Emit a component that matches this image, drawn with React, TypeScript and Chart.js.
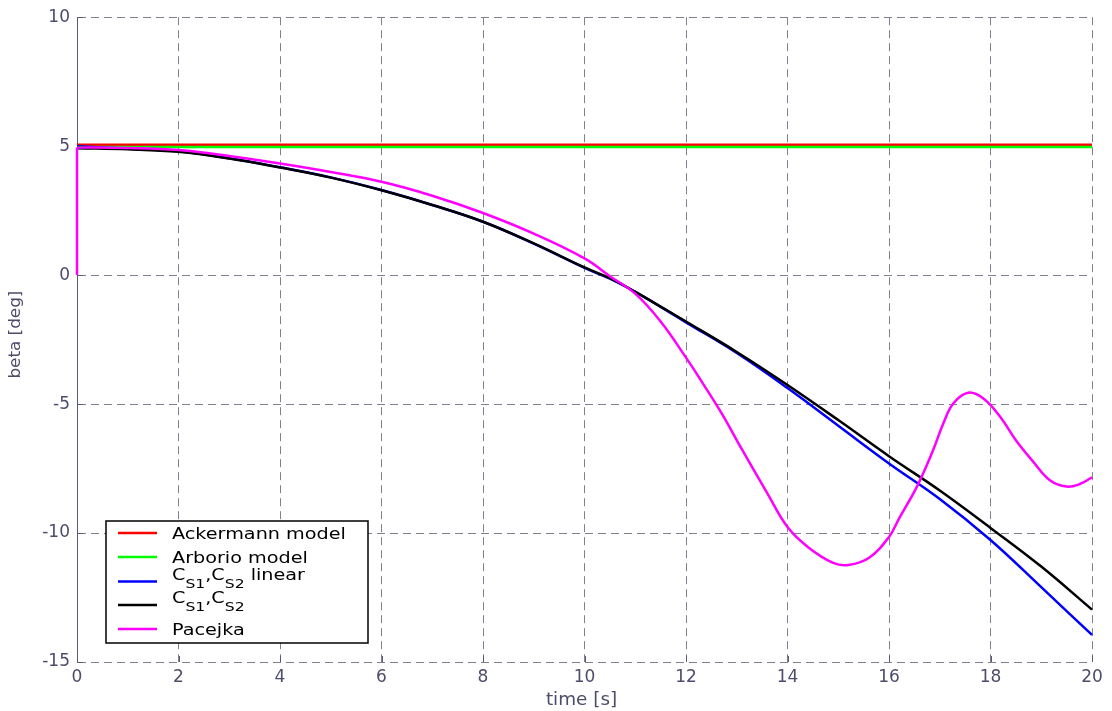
import React, { useEffect, useRef } from "react";
import { Chart, registerables } from "chart.js";

Chart.register(...registerables);

// ---- data ----
const xTicks = [0, 2, 4, 6, 8, 10, 12, 14, 16, 18, 20];
const yTicks = [-15, -10, -5, 0, 5, 10];

const timeConst = [0, 20];
const ackermann = [5.05, 5.05];
const arborio = [4.97, 4.97];

const timeCs = [0, 1, 2, 3, 4, 5, 6, 7, 8, 9, 10, 10.5, 11, 11.5, 12, 13, 14, 15, 16, 17, 18, 19, 20];
const csLinear = [5.0, 4.9, 4.8, 4.53, 4.18, 3.79, 3.3, 2.72, 2.07, 1.22, 0.28, -0.14, -0.65, -1.23, -1.83, -3.02, -4.38, -5.84, -7.3, -8.68, -10.27, -12.1, -13.95];
const cs = [4.92, 4.88, 4.78, 4.52, 4.17, 3.78, 3.29, 2.72, 2.07, 1.23, 0.3, -0.12, -0.65, -1.22, -1.8, -2.98, -4.26, -5.62, -7.02, -8.35, -9.8, -11.3, -12.97];

// initial step of the Pacejka response at t = 0
const timeStep = [0, 0];
const pacejkaStep = [0, 4.95];

const timePac = [0, 1, 2, 3, 4, 5, 6, 7, 8, 9, 10, 10.5, 11, 11.5, 12, 12.3, 12.7, 13.1, 13.6, 14, 14.4, 14.9, 15.2, 15.6, 16, 16.2, 16.55, 16.87, 17.07, 17.27, 17.56, 17.86, 18.19, 18.5, 18.84, 19.17, 19.5, 19.76, 20];
const pacejka = [4.95, 4.93, 4.85, 4.62, 4.33, 4.0, 3.62, 3.08, 2.41, 1.61, 0.65, -0.04, -0.72, -1.8, -3.2, -4.1, -5.35, -6.75, -8.45, -9.77, -10.54, -11.16, -11.24, -10.97, -10.15, -9.43, -8.2, -6.78, -5.75, -4.97, -4.56, -4.78, -5.49, -6.4, -7.23, -7.95, -8.2, -8.1, -7.84];

// legend labels as text segments (sub = subscript)
const legendAckermann = [{ t: "Ackermann model" }];
const legendArborio = [{ t: "Arborio model" }];
const legendCsLinear = [{ t: "C" }, { t: "S1", sub: true }, { t: "," }, { t: "C" }, { t: "S2", sub: true }, { t: " linear" }];
const legendCs = [{ t: "C" }, { t: "S1", sub: true }, { t: "," }, { t: "C" }, { t: "S2", sub: true }];
const legendPacejka = [{ t: "Pacejka" }];

const xTitle = "time [s]";
const yTitle = "beta [deg]";

const FONT = "'DejaVu Sans', sans-serif";
const TEXT_COLOR = "#4d4d6b";
const GRID_COLOR = "#80808f";

const toPts = (xs: number[], ys: number[]) => xs.map((x, i) => ({ x, y: ys[i] }));

export default function App() {
  const ref = useRef<HTMLCanvasElement | null>(null);

  useEffect(() => {
    const canvas = ref.current;
    if (!canvas) return;

    const entries = [
      { color: "#ff0000", seg: legendAckermann },
      { color: "#00ff00", seg: legendArborio },
      { color: "#0000ff", seg: legendCsLinear },
      { color: "#000000", seg: legendCs },
      { color: "#ff00ff", seg: legendPacejka },
    ];

    const overlay = {
      id: "overlay",
      afterDraw(chart: any) {
        const { ctx, chartArea, scales } = chart;
        const { left, right, top, bottom } = chartArea;
        ctx.save();
        // inward tick marks
        ctx.strokeStyle = "#5a5a78";
        ctx.lineWidth = 1;
        ctx.beginPath();
        xTicks.forEach((v) => {
          const px = Math.round(scales.x.getPixelForValue(v)) + 0.5;
          ctx.moveTo(px, bottom);
          ctx.lineTo(px, bottom - 6);
        });
        yTicks.forEach((v) => {
          const py = Math.round(scales.y.getPixelForValue(v)) + 0.5;
          ctx.moveTo(left, py);
          ctx.lineTo(left + 6, py);
        });
        ctx.stroke();

        // axis titles
        ctx.fillStyle = TEXT_COLOR;
        ctx.textAlign = "center";
        ctx.textBaseline = "middle";
        ctx.font = `17px ${FONT}`;
        ctx.save();
        ctx.translate((left + right) / 2 - 3, 701);
        ctx.scale(1.08, 1);
        ctx.fillText(xTitle, 0, 0);
        ctx.restore();

        ctx.save();
        ctx.translate(16, (top + bottom) / 2 - 5);
        ctx.rotate(-Math.PI / 2);
        ctx.font = `15px ${FONT}`;
        ctx.scale(1.12, 1);
        ctx.fillText(yTitle, 0, 0);
        ctx.restore();

        // legend
        const lx = left + 29;
        const lw = 262;
        const lh = 122;
        const ly = bottom - 19 - lh;
        ctx.fillStyle = "#ffffff";
        ctx.fillRect(lx, ly, lw, lh);
        ctx.strokeStyle = "#000000";
        ctx.lineWidth = 1.5;
        ctx.strokeRect(lx, ly, lw, lh);
        const rowY = [12, 36, 60.5, 84, 108];
        const sx = 1.2;
        entries.forEach((e, i) => {
          const y = ly + rowY[i];
          ctx.strokeStyle = e.color;
          ctx.lineWidth = 2.5;
          ctx.beginPath();
          ctx.moveTo(lx + 12, y);
          ctx.lineTo(lx + 51, y);
          ctx.stroke();
          ctx.fillStyle = "#000000";
          ctx.textAlign = "left";
          ctx.textBaseline = "alphabetic";
          const hasSub = e.seg.some((s: any) => s.sub);
          let x = lx + 66;
          e.seg.forEach((s: any) => {
            const size = s.sub ? 13 : 16;
            ctx.font = `${size}px ${FONT}`;
            const by = hasSub ? (s.sub ? y + 6 : y - 2) : y + 5.5;
            ctx.save();
            ctx.translate(x, by);
            ctx.scale(sx, 1);
            ctx.fillText(s.t, 0, 0);
            ctx.restore();
            x += ctx.measureText(s.t).width * sx;
          });
        });
        ctx.restore();
      },
    };

    const ds = (label: string, xs: number[], ys: number[], color: string, order: number) => ({
      label,
      data: toPts(xs, ys),
      borderColor: color,
      backgroundColor: color,
      borderWidth: 2.5,
      pointRadius: 0,
      fill: false,
      tension: 0.4,
      clip: 4,
      order,
    });

    const chart = new Chart(canvas, {
      type: "line",
      data: {
        datasets: [
          ds("Ackermann model", timeConst, ackermann, "#ff0000", 5),
          ds("Arborio model", timeConst, arborio, "#00ff00", 4),
          ds("CS1,CS2 linear", timeCs, csLinear, "#0000ff", 3),
          ds("CS1,CS2", timeCs, cs, "#000000", 2),
          ds("Pacejka", timePac, pacejka, "#ff00ff", 1),
          ds("Pacejka step", timeStep, pacejkaStep, "#ff00ff", 1),
        ],
      },
      options: {
        animation: false,
        responsive: false,
        layout: { padding: { left: 0, top: 17, right: 20, bottom: 0 } },
        plugins: { legend: { display: false }, tooltip: { enabled: false } },
        scales: {
          x: {
            type: "linear",
            min: 0,
            max: 20,
            afterBuildTicks: (s: any) => {
              s.ticks = xTicks.map((v) => ({ value: v }));
            },
            afterFit: (s: any) => {
              s.height = 49;
            },
            ticks: {
              autoSkip: false,
              maxRotation: 0,
              padding: 5,
              color: TEXT_COLOR,
              font: { family: FONT, size: 17 },
            },
            grid: { color: GRID_COLOR, lineWidth: 1, drawTicks: false },
            border: { display: false, dash: [8, 5] },
          },
          y: {
            type: "linear",
            min: -15,
            max: 10,
            afterBuildTicks: (s: any) => {
              s.ticks = yTicks.map((v) => ({ value: v }));
            },
            afterFit: (s: any) => {
              s.width = 77;
            },
            ticks: {
              autoSkip: false,
              padding: 7,
              color: TEXT_COLOR,
              font: { family: FONT, size: 17 },
            },
            grid: { color: GRID_COLOR, lineWidth: 1, drawTicks: false },
            border: { display: true, color: "#5a5a78", width: 1, dash: [8, 5] },
          },
        },
      },
      plugins: [overlay],
    });

    return () => chart.destroy();
  }, []);

  return (
    <div style={{ position: "absolute", left: 0, top: 0, width: 1112, height: 711, background: "#fff" }}>
      <canvas ref={ref} width={1112} height={711} style={{ width: 1112, height: 711, display: "block" }} />
    </div>
  );
}
